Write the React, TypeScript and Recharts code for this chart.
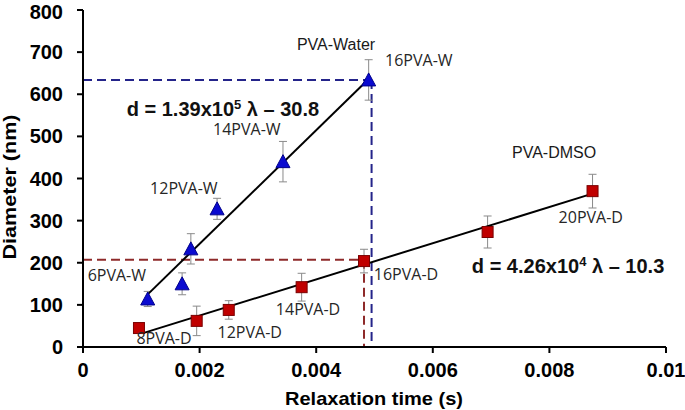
import React from "react";
import {
  ComposedChart,
  Scatter,
  XAxis,
  YAxis,
  ErrorBar,
  ReferenceLine,
} from "recharts";

// relaxation time (s) vs fibre diameter (nm)
const waterX = [0.00111, 0.0017, 0.00185, 0.0023, 0.00343, 0.0049];
const waterY = [114, 150, 233, 328, 440, 634];
const waterErr = [18, 26, 36, 25, 48, 48];

const dmsoX = [0.00096, 0.00195, 0.0025, 0.00375, 0.00482, 0.00694, 0.00874];
const dmsoY = [45, 62, 88, 142, 204, 273, 370];
const dmsoErr = [0, 35, 22, 33, 28, 38, 40];

// fitted lines, end points
const waterFitX = [0.00111, 0.0049];
const waterFitY = [125, 636];
const dmsoFitX = [0.00103, 0.00874];
const dmsoFitY = [33, 364];

// guide lines
const waterGuide = { x: 0.00495, y: 634 };
const dmsoGuide = { x: 0.00482, y: 207 };

const xTicks = [0, 0.002, 0.004, 0.006, 0.008, 0.01];
const yTicks = [0, 100, 200, 300, 400, 500, 600, 700, 800];

const pointLabels = ["6PVA-W", "12PVA-W", "14PVA-W", "16PVA-W", "8PVA-D", "12PVA-D", "14PVA-D", "16PVA-D", "20PVA-D"];
const pointLabelX = [0.00058, 0.00173, 0.00281, 0.00576, 0.00139, 0.00286, 0.00386, 0.00554, 0.00871];
const pointLabelY = [171, 377, 517, 681, 21, 36, 90, 173, 309];

const seriesNames = ["PVA-Water", "PVA-DMSO"];
const seriesNameX = [0.00434, 0.00808];
const seriesNameY = [717, 461];

const eqCoef = ["1.39", "4.26"];
const eqExp = ["5", "4"];
const eqIcpt = ["30.8", "10.3"];
const eqX = [0.00075, 0.00667];
const eqY = [565, 192];

const waterData = waterX.map((x, i) => ({ x, y: waterY[i], err: waterErr[i] }));
const dmsoData = dmsoX.map((x, i) => ({ x, y: dmsoY[i], err: dmsoErr[i] }));
const waterFit = waterFitX.map((x, i) => ({ x, y: waterFitY[i] }));
const dmsoFit = dmsoFitX.map((x, i) => ({ x, y: dmsoFitY[i] }));
const labelData = pointLabels.map((text, i) => ({ x: pointLabelX[i], y: pointLabelY[i], text }));
const nameData = seriesNames.map((text, i) => ({ x: seriesNameX[i], y: seriesNameY[i], text }));
const eqData = eqCoef.map((c, i) => ({ x: eqX[i], y: eqY[i], c, e: eqExp[i], b: eqIcpt[i] }));

const FONT = "'Liberation Sans', Arial, sans-serif";

const Triangle = (p: any) => (
  <polygon
    points={`${p.cx},${p.cy - 7} ${p.cx - 7},${p.cy + 6} ${p.cx + 7},${p.cy + 6}`}
    fill="#0a0ad0"
    stroke="#00008a"
    strokeWidth={1}
  />
);

const Square = (p: any) => (
  <rect x={p.cx - 5.5} y={p.cy - 5.5} width={11} height={11} fill="#c00000" stroke="#7a0000" strokeWidth={1} />
);

const Nothing = () => <g />;

const PointLabel = (p: any) => (
  <text
    x={p.cx}
    y={p.cy}
    textAnchor="middle"
    dominantBaseline="central"
    fontFamily="'Open Sans', sans-serif"
    fontSize={16}
    fill="#262626"
  >
    {p.payload.text}
  </text>
);

const NameLabel = (p: any) => (
  <text x={p.cx} y={p.cy} textAnchor="middle" dominantBaseline="central" fontFamily={FONT} fontSize={16} fill="#1a1a1a">
    {p.payload.text}
  </text>
);

const Equation = (p: any) => (
  <text x={p.cx} y={p.cy + 7} fontFamily={FONT} fontSize={20} fontWeight="bold" fill="#111">
    {`d = ${p.payload.c}x10`}
    <tspan dy={-7} fontSize={13}>{p.payload.e}</tspan>
    <tspan dy={7}>{` λ – ${p.payload.b}`}</tspan>
  </text>
);

const fmtX = (v: number) => (v === 0 ? "0" : String(v));

const tickStyle = { fill: "#000", fontSize: 20, fontWeight: "bold", fontFamily: FONT };

export default function App() {
  return (
    <div style={{ position: "absolute", left: 0, top: 0, background: "#fff" }}>
      <ComposedChart width={685} height={410} margin={{ top: 10, right: 19, bottom: 13, left: 20 }}>
        <XAxis
          type="number"
          dataKey="x"
          domain={[0, 0.01]}
          ticks={xTicks}
          tickFormatter={fmtX}
          height={50}
          axisLine={{ stroke: "#000", strokeWidth: 2 }}
          tickLine={{ stroke: "#000", strokeWidth: 2 }}
          tickSize={6}
          tick={{ ...tickStyle, dy: 8 }}
          label={() => (
            <text
              x={374}
              y={405}
              textAnchor="middle"
              fontFamily={FONT}
              fontSize={19}
              fontWeight="bold"
              fill="#000"
              textLength={178}
              lengthAdjust="spacingAndGlyphs"
            >
              Relaxation time (s)
            </text>
          )}
        />
        <YAxis
          type="number"
          dataKey="y"
          domain={[0, 800]}
          ticks={yTicks}
          width={63}
          axisLine={{ stroke: "#000", strokeWidth: 2 }}
          tickLine={{ stroke: "#000", strokeWidth: 2 }}
          tickSize={6}
          tick={{ ...tickStyle, dx: -12 }}
          label={() => (
            <text
              x={16}
              y={187}
              transform="rotate(-90 16 187)"
              textAnchor="middle"
              fontFamily={FONT}
              fontSize={19}
              fontWeight="bold"
              fill="#000"
              textLength={145}
              lengthAdjust="spacingAndGlyphs"
            >
              Diameter (nm)
            </text>
          )}
        />
        <ReferenceLine
          segment={[{ x: 0, y: waterGuide.y }, { x: waterGuide.x, y: waterGuide.y }]}
          stroke="#24248a"
          strokeWidth={2}
          strokeDasharray="9 5"
        />
        <ReferenceLine
          segment={[{ x: waterGuide.x, y: waterGuide.y }, { x: waterGuide.x, y: 0 }]}
          stroke="#24248a"
          strokeWidth={2}
          strokeDasharray="9 5"
        />
        <ReferenceLine
          segment={[{ x: 0, y: dmsoGuide.y }, { x: dmsoGuide.x, y: dmsoGuide.y }]}
          stroke="#8e2a2a"
          strokeWidth={2}
          strokeDasharray="9 5"
        />
        <ReferenceLine
          segment={[{ x: dmsoGuide.x, y: dmsoGuide.y }, { x: dmsoGuide.x, y: 0 }]}
          stroke="#8e2a2a"
          strokeWidth={2}
          strokeDasharray="9 5"
        />
        <Scatter data={waterFit} line={{ stroke: "#000", strokeWidth: 2 }} shape={Nothing} isAnimationActive={false} />
        <Scatter data={dmsoFit} line={{ stroke: "#000", strokeWidth: 2 }} shape={Nothing} isAnimationActive={false} />
        <Scatter data={waterData} shape={Triangle} isAnimationActive={false}>
          <ErrorBar dataKey="err" direction="y" width={4} stroke="#8a8a8a" strokeWidth={1} />
        </Scatter>
        <Scatter data={dmsoData} shape={Square} isAnimationActive={false}>
          <ErrorBar dataKey="err" direction="y" width={4} stroke="#8a8a8a" strokeWidth={1} />
        </Scatter>
        <Scatter data={labelData} shape={PointLabel} isAnimationActive={false} />
        <Scatter data={nameData} shape={NameLabel} isAnimationActive={false} />
        <Scatter data={eqData} shape={Equation} isAnimationActive={false} />
      </ComposedChart>
    </div>
  );
}
